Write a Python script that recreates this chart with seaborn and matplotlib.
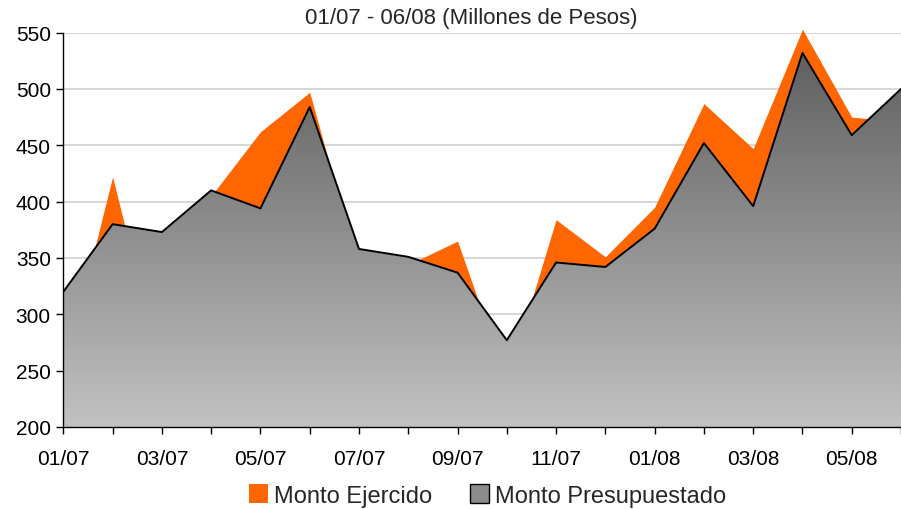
import numpy as np
import pandas as pd
import seaborn as sns
import matplotlib
matplotlib.use('Agg')
import matplotlib.pyplot as plt
from matplotlib.colors import LinearSegmentedColormap
from matplotlib.patches import Patch

meses = ['01/07', '02/07', '03/07', '04/07', '05/07', '06/07', '07/07', '08/07', '09/07',
         '10/07', '11/07', '12/07', '01/08', '02/08', '03/08', '04/08', '05/08', '06/08']
presupuestado = [320, 380, 373, 410, 394, 484, 358, 351, 337, 277, 346, 342, 376, 452, 396, 532, 459, 500]
ejercido = [248, 422, 246, 405, 462, 497, 339, 344, 365, 240, 384, 351, 395, 487, 447, 553, 475, 471]

db = pd.DataFrame({'mes': meses, 'presupuestado': presupuestado, 'ejercido': ejercido})
db['pos'] = range(len(db))

sns.set_theme(style='white')
plt.rcParams['font.family'] = ['Liberation Sans', 'DejaVu Sans']

fig = plt.figure(figsize=(9.01, 5.10), dpi=100)
ax = fig.add_axes([0.0703, 0.1608, 0.9297, 0.7733])

# monto ejercido (atras)
ax.fill_between(db['pos'], 200, db['ejercido'], color='#ff6600', lw=0, zorder=2, clip_on=False)

# monto presupuestado con degradado
poly = ax.fill_between(db['pos'], 200, db['presupuestado'], color='none', lw=0, zorder=3)
cmap = LinearSegmentedColormap.from_list('gris', ['#c2c2c2', '#5a5a5a'])
grad = np.linspace(0, 1, 256).reshape(-1, 1)
img = ax.imshow(grad, cmap=cmap, origin='lower', aspect='auto',
                extent=[0, len(db) - 1, 200, 550], zorder=3)
img.set_clip_path(poly.get_paths()[0], transform=ax.transData)
sns.lineplot(data=db, x='pos', y='presupuestado', color='black', lw=1.4, ax=ax, zorder=4)

ax.set_xlim(0, 16.82)
ax.set_ylim(200, 550)
ax.set_yticks(range(200, 551, 50))
ax.set_xticks(db['pos'])
ax.set_xticklabels([m if i % 2 == 0 else '' for i, m in enumerate(meses)])
ax.set_xlabel('')
ax.set_ylabel('')
ax.yaxis.grid(True, color='#d0d0d0', lw=1.2, zorder=0)
ax.set_axisbelow(True)
for s in ['top', 'right']:
    ax.spines[s].set_visible(False)
for s in ['left', 'bottom']:
    ax.spines[s].set_color('black')
    ax.spines[s].set_linewidth(1.0)
    ax.spines[s].set_zorder(5)
ax.tick_params(axis='both', direction='out', length=5, width=1, color='black',
               labelsize=15, colors='black', bottom=True, left=True)
ax.tick_params(axis='x', pad=11)
ax.tick_params(axis='y', pad=4)

# primera linea del titulo, cortada en el borde como en el original
fig.text(0.523, 1.011, 'Monto Ejercido y Presupuestado', ha='center', va='baseline', fontsize=16)
fig.text(0.523, 0.964, '01/07 - 06/08 (Millones de Pesos)', ha='center', va='center', fontsize=16)

handles = [Patch(facecolor='#ff6600', edgecolor='none', label='Monto Ejercido'),
           Patch(facecolor='#8c8c8c', edgecolor='black', label='Monto Presupuestado')]
fig.legend(handles=handles, loc='center', bbox_to_anchor=(0.541, 0.027), ncol=2, frameon=False,
           fontsize=17, handlelength=0.8, handleheight=0.9, handletextpad=0.25, columnspacing=1.6)

fig.savefig('out.png', dpi=100)
